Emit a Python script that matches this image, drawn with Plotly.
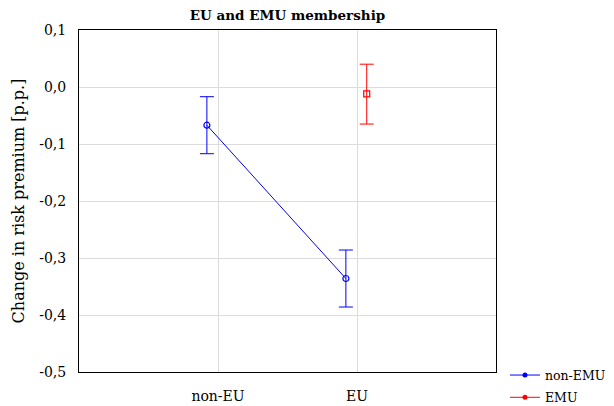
import plotly.graph_objects as go

categories = ["non-EU", "EU"]
cat_pos = [0, 1]
non_emu_mean = [-0.067, -0.336]
non_emu_upper = [-0.017, -0.286]
non_emu_lower = [-0.117, -0.386]
emu_cat = ["EU"]
emu_mean = [-0.012]
emu_upper = [0.040]
emu_lower = [-0.065]
y_ticks = [0.1, 0.0, -0.1, -0.2, -0.3, -0.4, -0.5]
y_tick_labels = ["0,1", "0,0", "-0,1", "-0,2", "-0,3", "-0,4", "-0,5"]

dodge = 0.08
serif = "DejaVu Serif"
blue = "#0000ff"
red = "#ff0000"

fig = go.Figure()
fig.add_trace(go.Scatter(
    x=[p - dodge for p in cat_pos], y=non_emu_mean, name="non-EMU",
    mode="lines+markers", showlegend=False,
    line=dict(color=blue, width=1),
    marker=dict(symbol="circle-open", size=6, color=blue, line=dict(width=1.2)),
    error_y=dict(type="data", symmetric=False,
                 array=[u - m for u, m in zip(non_emu_upper, non_emu_mean)],
                 arrayminus=[m - l for m, l in zip(non_emu_mean, non_emu_lower)],
                 color=blue, thickness=1, width=7),
))
emu_x = [cat_pos[categories.index(c)] + 0.07 for c in emu_cat]
fig.add_trace(go.Scatter(
    x=emu_x, y=emu_mean, name="EMU",
    mode="markers", showlegend=False,
    marker=dict(symbol="square-open", size=6, color=red, line=dict(width=1.2)),
    error_y=dict(type="data", symmetric=False,
                 array=[u - m for u, m in zip(emu_upper, emu_mean)],
                 arrayminus=[m - l for m, l in zip(emu_mean, emu_lower)],
                 color=red, thickness=1, width=7),
))
# legend-only entries
for nm, col in [("non-EMU", blue), ("EMU", red)]:
    fig.add_trace(go.Scatter(
        x=[None], y=[None], name=nm, mode="lines+markers", legendgroup=nm,
        line=dict(color=col, width=1),
        marker=dict(symbol="circle", size=5, color=col),
    ))

fig.update_layout(
    width=614, height=406,
    margin=dict(l=71, r=126, t=22, b=42, autoexpand=False),
    plot_bgcolor="white", paper_bgcolor="white",
    font=dict(family=serif, size=13, color="black"),
    title=dict(text="<b>EU and EMU membership</b>", x=0.5, xref="paper",
               y=0.981, yanchor="middle", font=dict(family=serif, size=13.5)),
    showlegend=True,
    legend=dict(x=0.8094, y=0.132, xref="container", yref="container",
                xanchor="left", yanchor="top",
                font=dict(family=serif, size=12.5), bgcolor="rgba(0,0,0,0)",
                tracegroupgap=3, itemwidth=30),
)
fig.update_xaxes(range=[-1, 2], tickvals=cat_pos, ticktext=categories,
                 showgrid=True, gridcolor="#dcdcdc", gridwidth=1,
                 showline=True, linecolor="black", linewidth=1, mirror=True,
                 ticks="", zeroline=False, automargin=False, ticklabelstandoff=11,
                 tickfont=dict(size=14, family=serif))
fig.update_yaxes(range=[-0.5, 0.1], tickvals=y_ticks, ticktext=y_tick_labels,
                 showgrid=True, gridcolor="#dcdcdc", gridwidth=1,
                 showline=True, linecolor="black", linewidth=1, mirror=True,
                 ticks="", zeroline=False, automargin=False, ticklabelstandoff=9,
                 tickfont=dict(size=14, family=serif),
                 title=dict(text="Change in risk premium [p.p.]", font=dict(size=16, family=serif),
                            standoff=10))

fig.write_html("out.html")
